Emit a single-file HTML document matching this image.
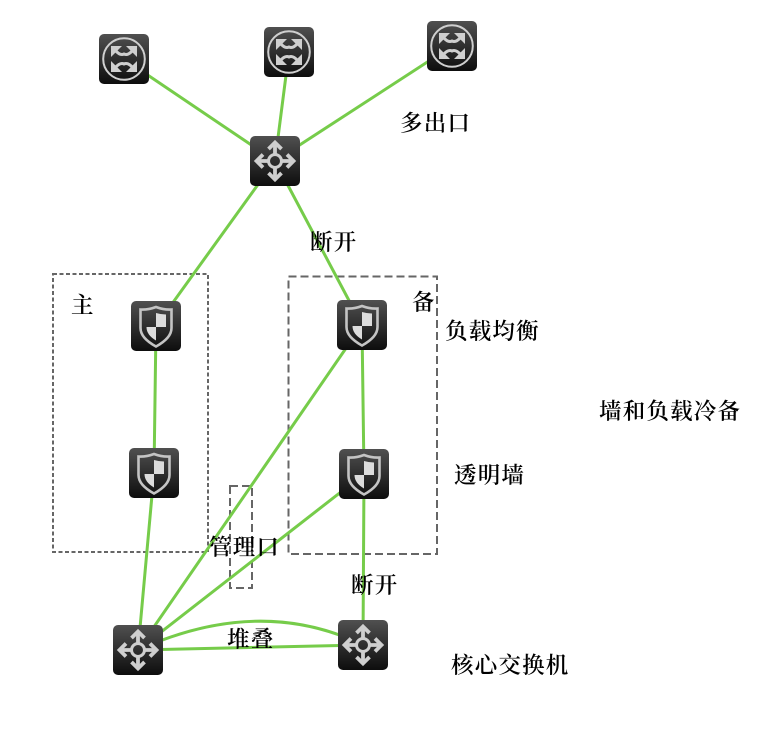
<!DOCTYPE html>
<html><head><meta charset="utf-8">
<style>
html,body{margin:0;padding:0;background:#fff}
svg{display:block}
text{font-family:"Liberation Serif","Noto Serif CJK SC",serif;font-size:22.5px;font-weight:600;letter-spacing:1.2px;fill:#000}
</style></head><body>
<svg width="780" height="745" viewBox="0 0 780 745" xmlns="http://www.w3.org/2000/svg">
<defs>
<linearGradient id="g" x1="0" y1="0" x2="0" y2="1"><stop offset="0" stop-color="#505050"/><stop offset="1" stop-color="#0d0d0d"/></linearGradient>
<symbol id="sw" width="50" height="50" viewBox="0 0 50 50">
<rect width="50" height="50" rx="5" fill="url(#g)"/>
<circle cx="25" cy="25" r="20.8" fill="none" stroke="#cfcfcf" stroke-width="2"/>
<g fill="none" stroke="#cfcfcf" stroke-width="3">
<path d="M16 16Q21 22 25 20Q29 22 34 16"/>
<path d="M16 34Q21 28 25 30Q29 28 34 34"/>
</g>
<g fill="#cfcfcf">
<path d="M12 12H23L12 23Z"/><path d="M38 12V23L27 12Z"/>
<path d="M12 38V27L23 38Z"/><path d="M38 38H27L38 27Z"/>
</g>
</symbol>
<symbol id="rt" width="50" height="50" viewBox="0 0 50 50">
<rect width="50" height="50" rx="5" fill="url(#g)"/>
<circle cx="25" cy="25" r="6.500" fill="none" stroke="#cfcfcf" stroke-width="3"/>
<g fill="none" stroke="#cfcfcf" stroke-width="3.800">
<path d="M25 18V8M25 32V42M18 25H8M32 25H42"/>
<path d="M18.500 13L25 6.500L31.500 13M18.500 37L25 43.500L31.500 37M13 18.500L6.500 25L13 31.500M37 18.500L43.500 25L37 31.500"/>
</g>
</symbol>
<symbol id="fw" width="50" height="50" viewBox="0 0 50 50">
<rect width="50" height="50" rx="5" fill="url(#g)"/>
<path d="M25 6Q33 9 40.500 8.500V27Q40.500 37 25 45.500Q9.500 37 9.500 27V8.500Q17 9 25 6Z" fill="none" stroke="#c4c4c4" stroke-width="2.6"/>
<path d="M25 12Q30 13.500 35 13.500V26H25ZM25 26V39.500Q15.500 34 15.500 26Z" fill="#dcdcdc"/>
</symbol>
</defs>

<g fill="none" stroke="#666" stroke-width="2">
<rect x="53" y="274" width="155" height="278" stroke-dasharray="4 2.5"/>
<rect x="288.500" y="276.500" width="148.500" height="277.500" stroke-dasharray="8 4"/>
<rect x="230" y="486" width="22" height="102" stroke-dasharray="8 4"/>
</g>

<g fill="none" stroke="#76cc4a" stroke-width="3">
<path d="M275 161L124 59M275 161L289 52M275 161L452 46"/>
<path d="M275 161L156 326M275 161L362 325"/>
<path d="M156 326L154 473M362 325L364 474"/>
<path d="M154 473L138 650M364 474L363 645"/>
<path d="M362 325L138 650M364 474L138 650"/>
<path d="M138 650L363 645"/>
<path d="M138 650Q260 595 363 645"/>
</g>

<use href="#sw" x="99" y="34"/>
<use href="#sw" x="264" y="27"/>
<use href="#sw" x="427" y="21"/>
<use href="#rt" x="250" y="136"/>
<use href="#fw" x="131" y="301"/>
<use href="#fw" x="337" y="300"/>
<use href="#fw" x="129" y="448"/>
<use href="#fw" x="339" y="449"/>
<use href="#rt" x="113" y="625"/>
<use href="#rt" x="338" y="620"/>

<text x="400" y="131">多出口</text>
<text x="310" y="250">断开</text>
<text x="71" y="313">主</text>
<text x="412" y="310">备</text>
<text x="445" y="339">负载均衡</text>
<text x="599" y="419">墙和负载冷备</text>
<text x="454" y="483">透明墙</text>
<text x="209" y="555">管理口</text>
<text x="351" y="593">断开</text>
<text x="227" y="647">堆叠</text>
<text x="451" y="673">核心交换机</text>
</svg>
</body></html>
